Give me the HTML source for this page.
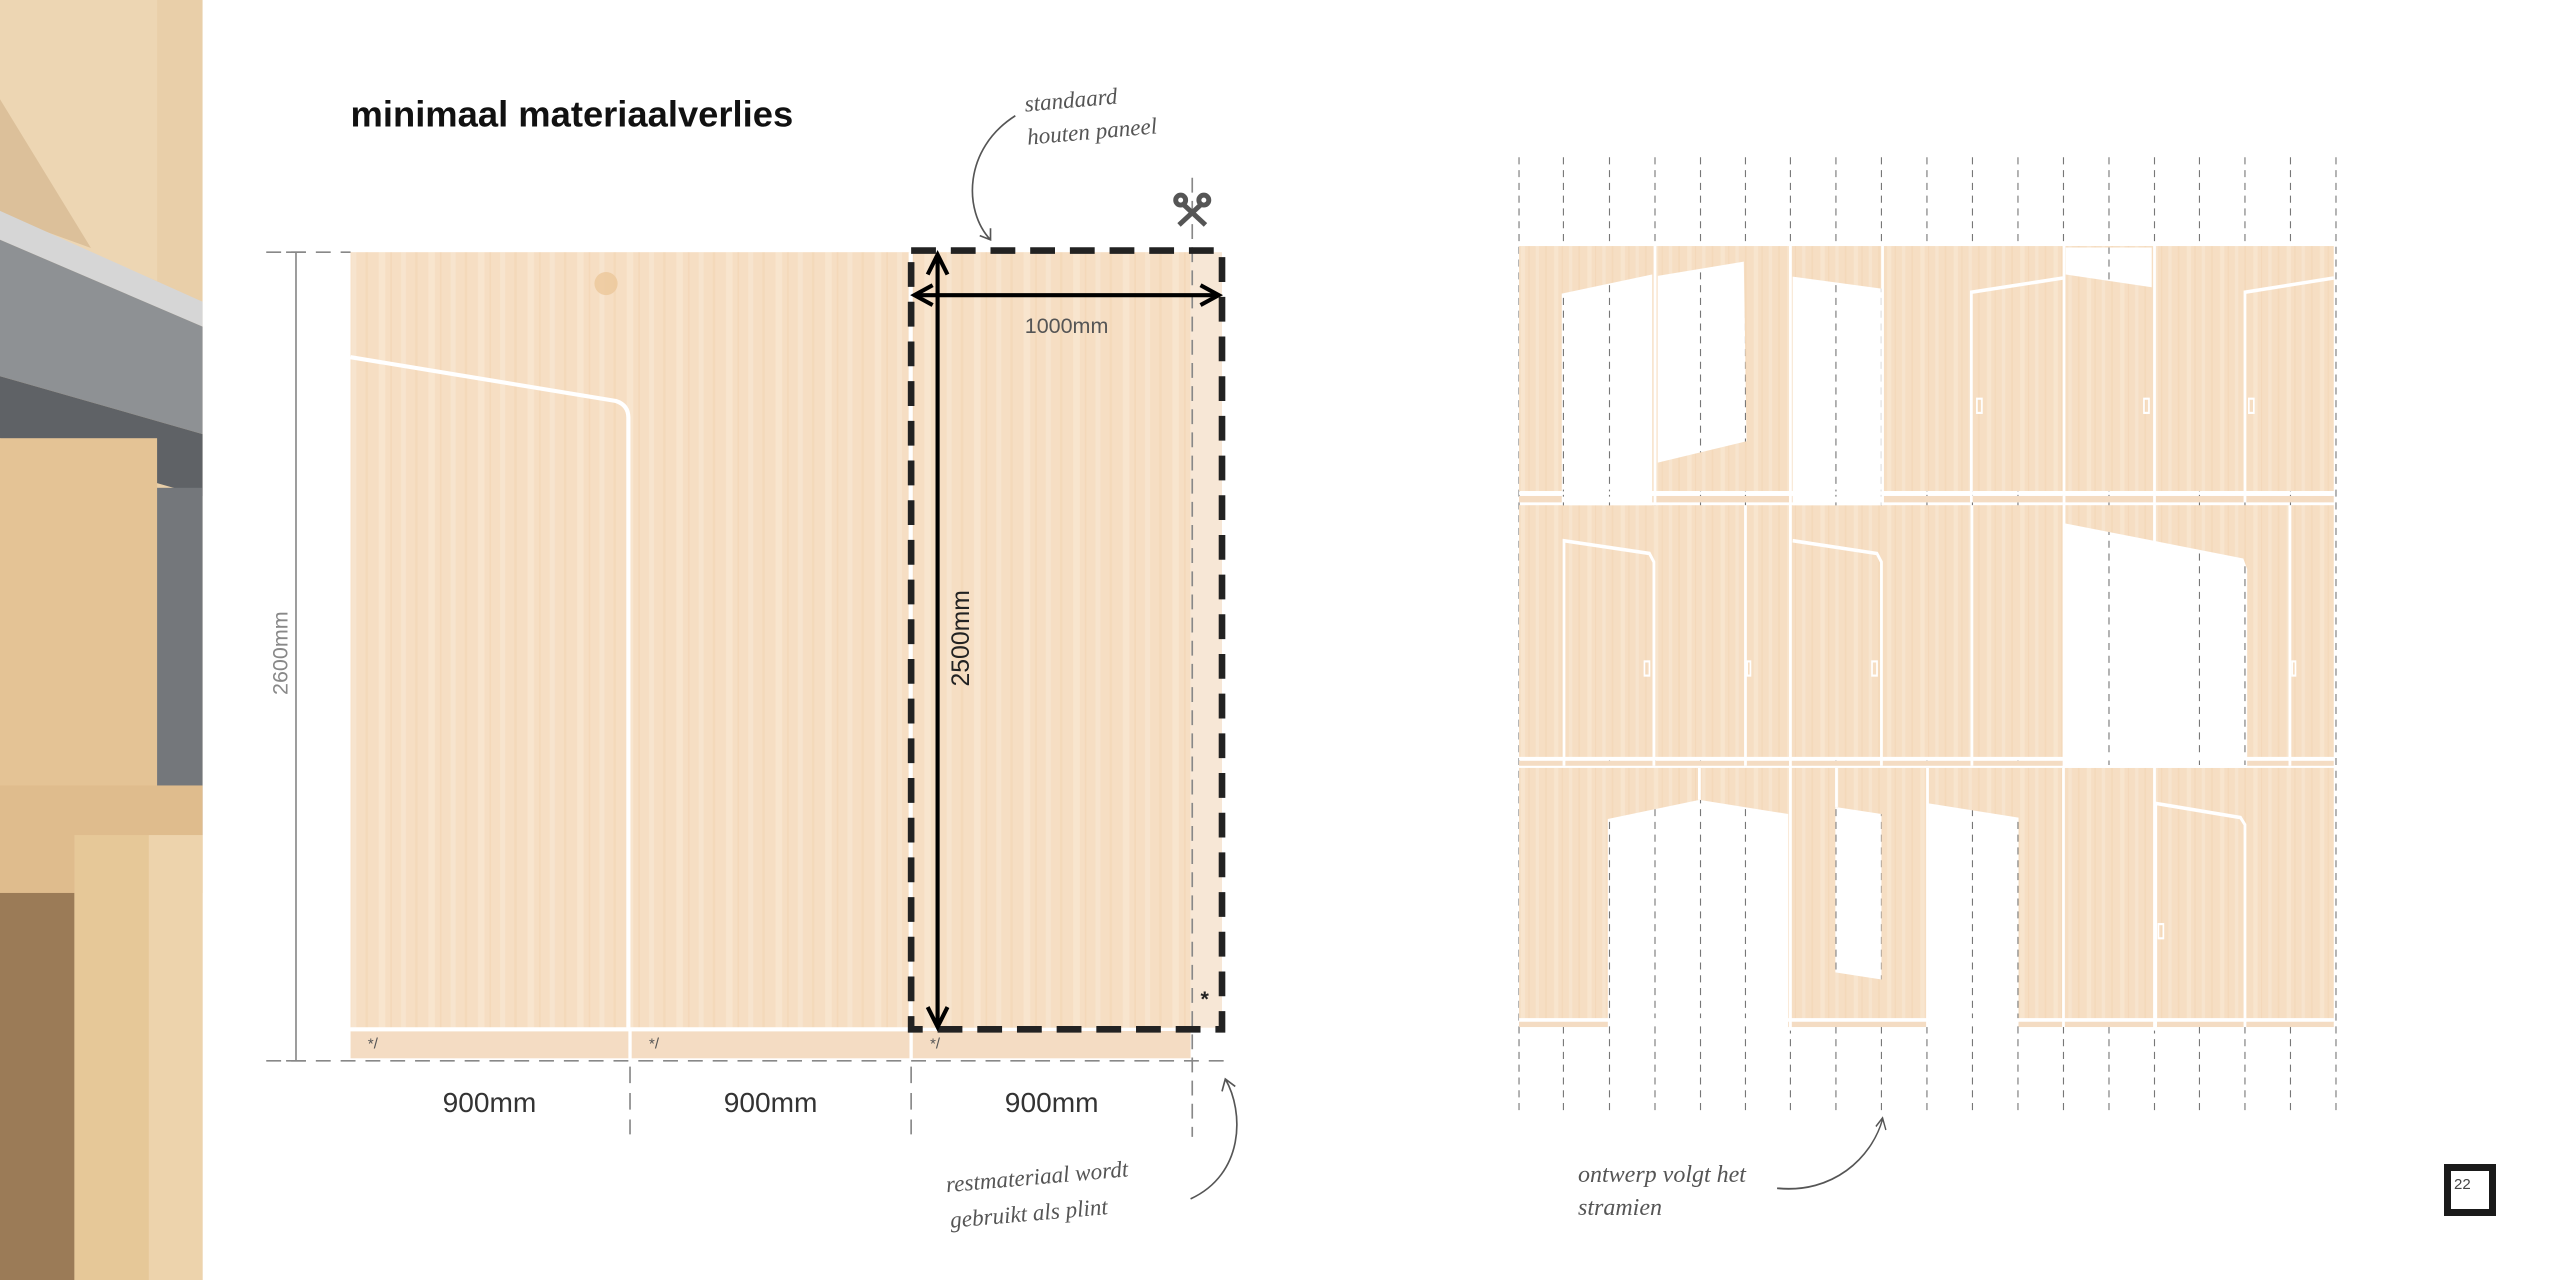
<!DOCTYPE html>
<html><head><meta charset="utf-8"><style>
html,body{margin:0;padding:0;background:#fff;}
body{width:2560px;height:1280px;position:relative;overflow:hidden;font-family:"Liberation Sans",sans-serif;}
svg{position:absolute;left:0;top:0;}
.hw{font-family:"Liberation Serif",serif;font-style:italic;fill:#555;}
</style></head><body>
<svg width="2560" height="1280" viewBox="0 0 2560 1280">
<defs>
<pattern id="wood" width="60" height="400" patternUnits="userSpaceOnUse">
<rect width="60" height="400" fill="#f6dec3"/>
<rect x="5" width="6" height="400" fill="#f9e7d3" opacity=".7"/>
<rect x="22" width="3" height="400" fill="#f2d3b1" opacity=".5"/>
<rect x="38" width="8" height="400" fill="#fae9d6" opacity=".6"/>
<rect x="52" width="2" height="400" fill="#f0cfab" opacity=".4"/>
</pattern>
</defs>
<!-- LEFT: zoom1 coords -->
<g transform="scale(0.8268)">
<rect x="0" y="0" width="245" height="1568" fill="#e9cfa9"/>
<polygon points="0,0 190,0 190,340 0,260" fill="#edd6b3"/>
<polygon points="0,120 110,300 0,260" fill="#dcc09a"/>
<polygon points="0,255 245,365 245,395 0,290" fill="#d6d6d6"/>
<polygon points="0,290 245,395 245,525 0,455" fill="#8e9194"/>
<polygon points="0,455 245,525 245,600 0,530" fill="#5f6266"/>
<rect x="0" y="530" width="190" height="470" fill="#e4c395"/>
<rect x="190" y="590" width="55" height="420" fill="#74777b"/>
<rect x="0" y="950" width="245" height="130" fill="#dfbc8d"/>
<rect x="0" y="1080" width="90" height="488" fill="#9b7b57"/>
<rect x="90" y="1010" width="155" height="558" fill="#e6c898"/>
<rect x="180" y="1010" width="65" height="558" fill="#edd3ac"/>
<rect x="424" y="305" width="1016" height="938" fill="url(#wood)"/>
<rect x="1440" y="305" width="38" height="938" fill="#f7e7d6"/>
<circle cx="733" cy="343" r="14" fill="#ecc79a" opacity=".8"/>
<rect x="1099" y="305" width="5" height="975" fill="#fff"/>
<rect x="424" y="1247" width="336" height="33" fill="#f4dcc3"/>
<rect x="764" y="1247" width="336" height="33" fill="#f4dcc3"/>
<rect x="1104" y="1247" width="336" height="33" fill="#f4dcc3"/>
<path d="M424,432 L745,485 Q760,490 760,505 L760,1245 M424,1245 L1100,1245" stroke="#fff" stroke-width="5" fill="none"/>
<g font-size="18" fill="#555"><text x="445" y="1268">*/</text><text x="785" y="1268">*/</text><text x="1125" y="1268">*/</text></g>
<text x="1452" y="1217" font-size="26" font-weight="bold" fill="#222">*</text>
<g stroke="#888" stroke-width="2" fill="none">
<line x1="358" y1="305" x2="358" y2="1283"/>
<line x1="346" y1="305" x2="370" y2="305"/><line x1="346" y1="1283" x2="370" y2="1283"/>
<line x1="322" y1="305" x2="424" y2="305" stroke-dasharray="18 12"/>
<line x1="322" y1="1283" x2="1480" y2="1283" stroke-dasharray="18 12"/>
<line x1="762" y1="1290" x2="762" y2="1372" stroke-dasharray="20 12"/>
<line x1="1102" y1="1290" x2="1102" y2="1372" stroke-dasharray="20 12"/>
<line x1="1442" y1="215" x2="1442" y2="1375" stroke-dasharray="18 10"/>
</g>
<text x="348" y="790" font-size="26" fill="#888" transform="rotate(-90 348 790)" text-anchor="middle">2600mm</text>
<g font-size="34" fill="#333" text-anchor="middle"><text x="592" y="1345">900mm</text><text x="932" y="1345">900mm</text><text x="1272" y="1345">900mm</text></g>
<rect x="1102" y="303" width="376" height="942" fill="none" stroke="#222" stroke-width="8" stroke-dasharray="30 18"/>
<g stroke="#000" stroke-width="5" fill="none">
<line x1="1134" y1="312" x2="1134" y2="1238"/>
<line x1="1110" y1="357" x2="1472" y2="357"/>
<polyline points="1122,332 1134,308 1146,332"/><polyline points="1122,1218 1134,1242 1146,1218"/>
<polyline points="1128,345 1106,357 1128,369"/><polyline points="1452,345 1474,357 1452,369"/>
</g>
<text x="1290" y="403" font-size="26" fill="#555" text-anchor="middle">1000mm</text>
<text x="1172" y="772" font-size="30" fill="#222" transform="rotate(-90 1172 772)" text-anchor="middle">2500mm</text>
<g stroke="#555" stroke-width="6" fill="none">
<line x1="1430" y1="246" x2="1458" y2="272"/><line x1="1454" y1="246" x2="1426" y2="272"/>
<circle cx="1428" cy="242" r="6"/><circle cx="1456" cy="242" r="6"/>
</g>
<text x="424" y="153" font-size="44" font-weight="bold" fill="#111">minimaal materiaalverlies</text>
<text class="hw" x="1240" y="135" font-size="28" transform="rotate(-5 1240 135)">standaard</text>
<text class="hw" x="1243" y="175" font-size="28" transform="rotate(-5 1243 175)">houten paneel</text>
<path d="M1228,140 C1165,180 1165,255 1198,290 M1185,285 L1198,290 L1198,276" stroke="#555" stroke-width="2" fill="none"/>
<text class="hw" x="1145" y="1442" font-size="28" transform="rotate(-5 1145 1442)">restmateriaal wordt</text>
<text class="hw" x="1150" y="1485" font-size="28" transform="rotate(-5 1150 1485)">gebruikt als plint</text>
<path d="M1440,1450 C1505,1420 1505,1345 1482,1305 M1478,1320 L1482,1305 L1494,1314" stroke="#555" stroke-width="2" fill="none"/>
</g>
<defs>
<mask id="m1" maskUnits="userSpaceOnUse" x="0" y="0" width="1600" height="1600">
<rect x="0" y="0" width="1600" height="1600" fill="#fff"/>
<g fill="#000">
<polygon points="112,222 275,195 275,520 112,520"/>
<polygon points="285,197 440,177 445,430 285,460"/>
<polygon points="528,198 688,215 688,520 528,520"/>
<polygon points="1020,157 1175,157 1175,213 1020,195"/>
<polygon points="1015,545 1340,595 1347,610 1347,890 1015,890"/>
<polygon points="195,962 360,935 520,955 520,1260 195,1260"/>
<polygon points="605,945 688,955 688,1188 605,1178"/>
<polygon points="773,940 935,960 935,1260 773,1260"/>
</g>
</mask>
</defs>
<g transform="matrix(0.555,0,0,0.71,1499.6,136)">
<g stroke="#777" stroke-width="2" stroke-dasharray="10 8">
<line x1="35" y1="30" x2="35" y2="1375"/><line x1="115" y1="30" x2="115" y2="1375"/><line x1="198" y1="30" x2="198" y2="1375"/><line x1="280" y1="30" x2="280" y2="1375"/><line x1="362" y1="30" x2="362" y2="1375"/><line x1="443" y1="30" x2="443" y2="1375"/><line x1="524" y1="30" x2="524" y2="1375"/><line x1="606" y1="30" x2="606" y2="1375"/><line x1="688" y1="30" x2="688" y2="1375"/><line x1="770" y1="30" x2="770" y2="1375"/><line x1="852" y1="30" x2="852" y2="1375"/><line x1="934" y1="30" x2="934" y2="1375"/><line x1="1016" y1="30" x2="1016" y2="1375"/><line x1="1098" y1="30" x2="1098" y2="1375"/><line x1="1180" y1="30" x2="1180" y2="1375"/><line x1="1261" y1="30" x2="1261" y2="1375"/><line x1="1343" y1="30" x2="1343" y2="1375"/><line x1="1425" y1="30" x2="1425" y2="1375"/><line x1="1507" y1="30" x2="1507" y2="1375"/>
</g>
<g mask="url(#m1)">
<rect x="35" y="155" width="1468" height="345" fill="url(#wood)"/>
<rect x="35" y="520" width="1468" height="355" fill="url(#wood)"/>
<rect x="35" y="890" width="1468" height="353" fill="url(#wood)"/>
<g fill="#f4dcc3">
<rect x="35" y="507" width="1468" height="9"/>
<rect x="35" y="880" width="1468" height="7"/>
<rect x="35" y="1247" width="1468" height="8"/>
</g>
</g>
<g stroke="#fff" stroke-width="5" fill="none">
<line x1="280" y1="155" x2="280" y2="520"/><line x1="524" y1="155" x2="524" y2="1260"/><line x1="690" y1="155" x2="690" y2="520"/><line x1="1017" y1="155" x2="1017" y2="890"/><line x1="1180" y1="155" x2="1180" y2="1260"/>
<polyline points="850,516 850,220 1015,200"/><polyline points="1343,516 1343,220 1503,200"/>
<polyline points="116,887 116,570 270,588 278,600 278,887"/><line x1="443" y1="520" x2="443" y2="887"/>
<polyline points="528,570 680,588 688,600 688,887"/><line x1="851" y1="520" x2="851" y2="887"/><line x1="1424" y1="520" x2="1424" y2="887"/>
<line x1="360" y1="890" x2="360" y2="935"/><line x1="607" y1="890" x2="607" y2="945"/><line x1="771" y1="890" x2="771" y2="1255"/><line x1="1016" y1="890" x2="1016" y2="1255"/>
<polyline points="1182,1255 1182,940 1335,960 1343,970 1343,1255"/>
<line x1="35" y1="503" x2="1503" y2="503"/><line x1="35" y1="877" x2="1503" y2="877"/><line x1="35" y1="1245" x2="1503" y2="1245"/>
</g>
<g fill="none" stroke="#fff" stroke-width="3">
<rect x="860" y="370" width="9" height="20"/><rect x="1161" y="370" width="9" height="20"/><rect x="1350" y="370" width="9" height="20"/>
<rect x="261" y="740" width="9" height="20"/><rect x="671" y="740" width="9" height="20"/><rect x="1428" y="740" width="6" height="20"/><rect x="446" y="740" width="6" height="20"/>
<rect x="1187" y="1110" width="9" height="20"/>
</g>
<path d="M500,1482 C600,1490 670,1440 690,1385 M678,1395 L690,1383 L696,1400" stroke="#555" stroke-width="2.5" fill="none"/>
</g>
<text class="hw" x="1578" y="1182" font-size="24">ontwerp volgt het</text>
<text class="hw" x="1578" y="1215" font-size="24">stramien</text>
<rect x="2447.5" y="1167.5" width="45" height="45" fill="none" stroke="#1a1a1a" stroke-width="7"/>
<text x="2454" y="1189" font-size="15" fill="#444">22</text>
</svg>
</body></html>
